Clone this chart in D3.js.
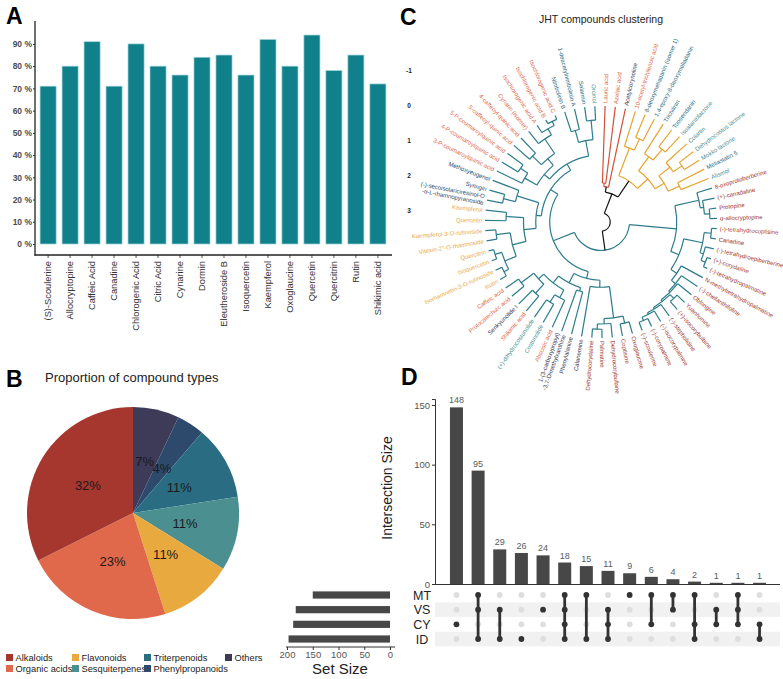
<!DOCTYPE html>
<html>
<head>
<meta charset="utf-8">
<script src="https://cdn.jsdelivr.net/npm/d3@7"></script>
<style>
body { margin: 0; background: #fff; }
svg { font-family: "Liberation Sans", Arial, sans-serif; }
</style>
</head>
<body>
<script>
//wrap everything in a self-executing anonymous function to keep it local
(function () {
    //panel A data
    var compounds = ["(S)-Scoulerine", "Allocryptopine", "Caffeic Acid", "Canadine", "Chlorogenic Acid",
        "Citric Acid", "Cynarine", "Dormin", "Eleutheroside B", "Isoquercetin", "Kaempferol",
        "Oxoglaucine", "Quercetin", "Quercitrin", "Rutin", "Shikimic acid"];
    var affinity = [71, 80, 91, 71, 90, 80, 76, 84, 85, 76, 92, 80, 94, 78, 85, 72];
    var pctTicks = [0, 10, 20, 30, 40, 50, 60, 70, 80, 90];

    //compound types (panel B legend order)
    var typeNames = ["Alkaloids", "Organic acids", "Flavonoids", "Sesquiterpenes", "Triterpenoids", "Phenylpropanoids", "Others"];
    var typeColors = ["#a5372f", "#e0694b", "#e8a93f", "#4b8f91", "#2a6c82", "#2d4a6c", "#3d3b57"];
    var pieOrder = [6, 5, 4, 3, 2, 1, 0]; //clockwise from 12 o'clock

    //panel C leaves, clockwise from the top
    var leafNames = ["Lauric acid", "Azelaic acid", "Acetylcorynoline", "10-acetyl-trichilenoic acid",
        "8-deoxymeliadanin (isomer 1)", "1,4-epoxy-8-deoxymeliadanin", "Trichilinin", "Toosendanin",
        "Isoalantolactone", "Colartin", "Dehydrocostus lactone", "Mokko lactone", "Meliastatin 5", "Alismol",
        "8-oxoprotoberberine", "(+)-canadaline", "Protopine", "\u03b1-allocryptopine", "(-)-tetrahydrocoptisine",
        "Canadine", "(-)-tetrahydroepiberberine", "(+)-corydaline", "(-)-tetrahydropalmatine",
        "N-methyltetrahydropalmatine", "(-)-cheilanthifoline", "Oblongine", "Yuanhunine", "(+)-isocorybulbine",
        "(-)-stepholidine", "(-)-isocorypalmine", "(-)-corypalmine", "(-)-scoulerine", "Oxoglaucine", "Coptisine",
        "Dehydrocorybulbine", "Palmatine", "Dehydrocorydaline", "Calanemine", "Phenylalanine",
        "1-(3-carboxypropyl)\n-3,7-Dimethylxanthine", "Abscisic acid", "Costunolide", "(+)-dihydrocostunolide",
        "Shikimic acid", "Senkyunolide I", "Protocatechuic acid", "Caffeic acid", "Rutin",
        "Isorhamnetin-3-O-rutinoside", "Isoquercetin", "Quercitrin", "Vitexin-2''-O-rhamnoside",
        "Kaempferol-3-O-rutinoside", "Quercetin", "Kaempferol", "(-)-secoisolariciresinol-O\n-\u03b1-L-rhamnopyranoside",
        "Syringin", "Methoxyeugenol", "3-P-coumaroylquinic acid", "4-P-coumaroylquinic acid",
        "5-P-coumaroylquinic acid", "5-caffeoyl-quinic acid", "4-caffeoyl-quinic acid", "Cynarin (isomer)",
        "Isochlorogenic acid A", "Isochlorogenic acid B", "Isochlorogenic acid C", "Nimbolinin B",
        "1-deacetylnimbolinin A", "Salannin", "Orcinol"];
    //index into typeNames for every leaf
    var leafTypes = [1, 1, 6, 1, 4, 4, 4, 4, 3, 3, 3, 3, 4, 3,
        0, 0, 0, 0, 0, 0, 0, 0, 0, 0, 0, 0, 0, 0, 0, 0, 0, 0, 0, 0, 0, 0, 0,
        6, 6, 6, 1, 3, 3, 1, 6, 1, 1,
        2, 2, 2, 2, 2, 2, 2, 2,
        5, 5, 5,
        1, 1, 1, 1, 1, 1, 1, 1, 1,
        4, 4, 4, 3];
    //cluster cut: sizes of the coloured groups, in leaf order
    var clusterSizes = [3, 11, 57];
    var clusterColors = ["#d2503a", "#e6a431", "#2d7c8b"];
    //tree: [merge height, child, child], leaves are leaf indices
    var treeData = [3.05,
        [2.45, [2.3, [2.2, 0, 1], 2],
            [1.9, [1.05, 3, [0.7, 4, 5]],
                [1.5, [1.0, 6, [0.6, 7, 8]], [1.2, [0.8, 9, [0.5, 10, 11]], [0.85, 12, 13]]]]],
        [2.5,
            [1.15, [0.45, 14, [0.35, 15, [0.2, 16, 17]]],
                [0.9, [0.35, [0.15, 18, 19], [0.25, 20, [0.12, 21, 22]]],
                    [0.7, 23, [0.55, 24, [0.5, 25, [0.45, [0.3, 26, 27], [0.4, 28, [0.35, 29, [0.25, 30, 31]]]]]]]]],
            [1.85,
                [1.65,
                    [1.45, [0.55, [0.35, 32, 33], [0.4, 34, [0.25, 35, 36]]], 37],
                    [1.35, [1.25, 38, 39], [1.1, [0.85, 40, [0.6, 41, 42]], [0.9, [0.55, 43, 44], [0.45, 45, 46]]]]],
                [1.6,
                    [1.45, [1.1, [0.7, [0.35, [0.2, 47, 48], [0.15, 49, 50]], [0.3, 51, 52]], [0.6, 53, 54]],
                        [0.8, [0.45, 55, 56], 57]],
                    [1.4, [1.2, [0.8, 58, [0.55, 59, 60]], [0.95, [0.6, 61, 62], [0.45, 63, [0.25, 64, [0.12, 65, 66]]]]],
                        [0.95, [0.6, 67, 68], [0.4, 69, 70]]]]]]];
    var heightTicks = [-1, 0, 1, 2, 3];

    //panel D data
    var setNames = ["MT", "VS", "CY", "ID"];
    var setSizes = [150, 183, 188, 197];
    var interSizes = [148, 95, 29, 26, 24, 18, 15, 11, 9, 6, 4, 2, 1, 1, 1];
    var interSets = [["CY"], ["MT", "VS", "ID"], ["VS", "ID"], ["ID"], ["VS"], ["MT", "VS", "CY", "ID"],
        ["MT", "ID"], ["VS", "CY", "ID"], ["MT"], ["MT", "CY"], ["MT", "VS"], ["MT", "CY", "ID"],
        ["VS", "CY"], ["MT", "VS", "CY"], ["CY", "ID"]];
    var interTicks = [0, 50, 100, 150];
    var setTicks = [200, 150, 100, 50, 0];

    var svg = d3.select("body").append("svg")
        .attr("width", 783)
        .attr("height", 679);

    drawBars(svg);
    drawPie(svg);
    drawDendrogram(svg);
    drawUpset(svg);

    //panel letters
    [["A", 6, 24], ["B", 6, 387], ["C", 400, 25], ["D", 401, 385]].forEach(function (p) {
        svg.append("text")
            .attr("x", p[1]).attr("y", p[2])
            .style("font-size", "23px").style("font-weight", "bold")
            .attr("fill", "#000")
            .text(p[0]);
    });

    function drawBars(svg) {
        var g = svg.append("g");
        var x = d3.scaleBand()
            .domain(compounds)
            .range([37, 389])
            .paddingInner(0.27)
            .paddingOuter(0.14);
        var y = d3.scaleLinear()
            .domain([0, 100])
            .range([244, 21.7]);

        g.selectAll(".barA")
            .data(compounds)
            .enter()
            .append("rect")
            .attr("class", "barA")
            .attr("x", function (d) { return x(d); })
            .attr("width", x.bandwidth())
            .attr("y", function (d, i) { return y(affinity[i]); })
            .attr("height", function (d, i) { return y(0) - y(affinity[i]); })
            .attr("fill", "#10808a")
            .attr("stroke", "#9fd2d6")
            .attr("stroke-width", 0.7);

        //y axis
        var yAxis = g.append("g")
            .attr("transform", "translate(35,0)")
            .call(d3.axisLeft(y).tickValues(pctTicks).tickSize(2).tickPadding(1)
                .tickFormat(function (d) { return d + " %"; }));
        yAxis.select(".domain").remove();
        yAxis.selectAll("line").attr("stroke", "#333");
        yAxis.selectAll("text")
            .style("font-size", "8.5px").style("font-weight", "bold")
            .style("font-family", "Liberation Sans, Arial, sans-serif")
            .attr("fill", "#4d4d4d");
        g.append("line")
            .attr("x1", 35).attr("x2", 35).attr("y1", 21).attr("y2", 255.5)
            .attr("stroke", "#222").attr("stroke-width", 1.3);

        //x axis
        var xAxis = g.append("g")
            .attr("transform", "translate(0,255)")
            .call(d3.axisBottom(x).tickSize(3).tickPadding(3));
        xAxis.select(".domain").remove();
        xAxis.selectAll("line").attr("stroke", "#555");
        xAxis.selectAll("text")
            .attr("transform", "rotate(-90)")
            .attr("x", -6).attr("y", 0).attr("dy", "0.35em")
            .attr("text-anchor", "end")
            .style("font-size", "9.3px")
            .style("font-family", "Liberation Sans, Arial, sans-serif")
            .attr("fill", "#333");
        g.append("line")
            .attr("x1", 34.4).attr("x2", 392).attr("y1", 255).attr("y2", 255)
            .attr("stroke", "#222").attr("stroke-width", 1.3);
    };

    function drawPie(svg) {
        var g = svg.append("g").attr("transform", "translate(133,513)");
        //count the compounds of each type
        var counts = d3.rollup(leafTypes, function (v) { return v.length; }, function (d) { return d; });
        var total = leafTypes.length;
        var pie = d3.pie()
            .sort(null)
            .value(function (d) { return counts.get(d); });
        var arc = d3.arc().innerRadius(0).outerRadius(106);
        var labelArc = d3.arc().innerRadius(53).outerRadius(53);
        var fmt = d3.format(".0%");
        var slices = pie(pieOrder);

        g.selectAll(".slice")
            .data(slices)
            .enter()
            .append("path")
            .attr("class", "slice")
            .attr("d", arc)
            .attr("fill", function (d) { return typeColors[d.data]; });

        g.selectAll(".pieLabel")
            .data(slices)
            .enter()
            .append("text")
            .attr("class", "pieLabel")
            .attr("transform", function (d) { return "translate(" + labelArc.centroid(d) + ")"; })
            .attr("text-anchor", "middle")
            .attr("dy", "0.35em")
            .style("font-size", "13px")
            .attr("fill", "#1a1a1a")
            .text(function (d) { return fmt(counts.get(d.data) / total); });

        svg.append("text")
            .attr("x", 45).attr("y", 382)
            .style("font-size", "13px")
            .attr("fill", "#222")
            .text("Proportion of compound types");

        //legend, filled column by column
        var legX = [6, 72, 144, 225];
        var leg = svg.selectAll(".leg")
            .data(typeNames)
            .enter()
            .append("g")
            .attr("class", "leg")
            .attr("transform", function (d, i) {
                return "translate(" + legX[Math.floor(i / 2)] + "," + (654 + (i % 2) * 11) + ")";
            });
        leg.append("rect")
            .attr("width", 7).attr("height", 7)
            .attr("fill", function (d, i) { return typeColors[i]; });
        leg.append("text")
            .attr("x", 9.5).attr("y", 7)
            .style("font-size", "9.3px")
            .attr("fill", "#222")
            .text(function (d) { return d; });
    };

    function drawDendrogram(svg) {
        var cx = 601, cy = 222;
        var g = svg.append("g").attr("transform", "translate(" + cx + "," + cy + ")");
        var r = d3.scaleLinear().domain([0, 1]).range([116, 81]);
        var nLeaf = leafNames.length;

        //cluster id of each leaf
        var leafCluster = [];
        clusterSizes.forEach(function (n, c) {
            for (var k = 0; k < n; k++) leafCluster.push(c);
        });

        var root = d3.hierarchy(treeData, function (d) {
            return Array.isArray(d) ? d.slice(1) : null;
        });
        root.eachAfter(function (n) {
            if (n.children) {
                var angs = n.children.map(function (c) { return c.ang; });
                n.h = n.data[0];
                n.a0 = d3.min(angs);
                n.a1 = d3.max(angs);
                n.ang = (n.a0 + n.a1) / 2;
                n.cl = d3.union.apply(null, n.children.map(function (c) { return c.cl; }));
            } else {
                n.h = 0;
                n.ang = (n.data + 0.4) * 360 / nLeaf;
                n.cl = new Set([leafCluster[n.data]]);
            }
            n.color = n.cl.size === 1 ? clusterColors[Array.from(n.cl)[0]] : "#111";
        });

        function pt(a, rad) {
            var t = a * Math.PI / 180;
            return [rad * Math.sin(t), -rad * Math.cos(t)];
        }

        //arcs joining the children of every node
        g.selectAll(".joinArc")
            .data(root.descendants().filter(function (n) { return n.children; }))
            .enter()
            .append("path")
            .attr("class", "joinArc")
            .attr("d", function (n) {
                var rad = r(n.h), p0 = pt(n.a0, rad), p1 = pt(n.a1, rad);
                return "M" + p0 + "A" + rad + "," + rad + " 0 " + (n.a1 - n.a0 > 180 ? 1 : 0) + " 1 " + p1;
            })
            .attr("fill", "none")
            .attr("stroke", function (n) { return n.color; })
            .attr("stroke-width", 1.2);

        //radial segments from parent height to node height
        g.selectAll(".radial")
            .data(root.descendants().filter(function (n) { return n.parent; }))
            .enter()
            .append("path")
            .attr("class", "radial")
            .attr("d", function (n) {
                return "M" + pt(n.ang, r(n.parent.h)) + "L" + pt(n.ang, r(n.h));
            })
            .attr("fill", "none")
            .attr("stroke", function (n) { return n.parent.color; })
            .attr("stroke-width", 1.2);

        //leaf labels
        var labels = g.selectAll(".leafLabel")
            .data(root.leaves())
            .enter()
            .append("text")
            .attr("class", "leafLabel")
            .attr("transform", function (n) {
                return "rotate(" + (n.ang - 90) + ") translate(" + (r(0) + 3) + ",0)" + (n.ang > 180 ? " rotate(180)" : "");
            })
            .attr("text-anchor", function (n) { return n.ang > 180 ? "end" : "start"; })
            .style("font-size", "6px")
            .attr("fill", function (n) { return typeColors[leafTypes[n.data]]; });
        labels.each(function (n) {
            var lines = leafNames[n.data].split("\n");
            d3.select(this).selectAll("tspan")
                .data(lines)
                .enter()
                .append("tspan")
                .attr("x", 0)
                .attr("dy", function (d, i) {
                    return i === 0 ? (0.35 - 0.55 * (lines.length - 1)) + "em" : "1.1em";
                })
                .text(function (d) { return d; });
        });

        //height scale on the left
        svg.selectAll(".hTick")
            .data(heightTicks)
            .enter()
            .append("text")
            .attr("class", "hTick")
            .attr("x", 409).attr("y", function (d) { return cy - r(d); })
            .attr("dy", "0.35em")
            .attr("text-anchor", "middle")
            .style("font-size", "6.5px").style("font-weight", "bold")
            .attr("fill", "#222")
            .text(function (d) { return d; });

        svg.append("text")
            .attr("x", cx).attr("y", 23)
            .attr("text-anchor", "middle")
            .style("font-size", "10.5px")
            .attr("fill", "#222")
            .text("JHT compounds clustering");
    };

    function drawUpset(svg) {
        var g = svg.append("g");
        var x = d3.scaleBand()
            .domain(d3.range(interSizes.length))
            .range([441.3, 774.7])
            .padding(0.4);
        var y = d3.scaleLinear()
            .domain([0, 155])
            .range([584, 399]);
        var row = d3.scalePoint()
            .domain(setNames)
            .range([595, 639]);
        var xs = d3.scaleLinear()
            .domain([0, 200])
            .range([390, 287]);

        //matrix stripes
        g.selectAll(".stripe")
            .data(setNames.filter(function (d, i) { return i % 2 === 1; }))
            .enter()
            .append("rect")
            .attr("class", "stripe")
            .attr("x", 435).attr("width", 345)
            .attr("y", function (d) { return row(d) - 7.3; })
            .attr("height", 14.6)
            .attr("fill", "#f1f1f1");

        //intersection bars
        g.selectAll(".interBar")
            .data(interSizes)
            .enter()
            .append("rect")
            .attr("class", "interBar")
            .attr("x", function (d, i) { return x(i); })
            .attr("width", x.bandwidth())
            .attr("y", function (d) { return y(d); })
            .attr("height", function (d) { return y(0) - y(d); })
            .attr("fill", "#474747");
        g.selectAll(".interVal")
            .data(interSizes)
            .enter()
            .append("text")
            .attr("class", "interVal")
            .attr("x", function (d, i) { return x(i) + x.bandwidth() / 2; })
            .attr("y", function (d) { return y(d) - 4; })
            .attr("text-anchor", "middle")
            .style("font-size", "9px")
            .attr("fill", "#5a5a5a")
            .text(function (d) { return d; });

        var yAxis = g.append("g")
            .attr("transform", "translate(435,0)")
            .call(d3.axisLeft(y).tickValues(interTicks).tickSize(3).tickPadding(2));
        yAxis.select(".domain").attr("stroke", "#333");
        yAxis.selectAll("line").attr("stroke", "#333");
        yAxis.selectAll("text")
            .style("font-size", "9.5px")
            .style("font-family", "Liberation Sans, Arial, sans-serif")
            .attr("fill", "#555");
        g.append("line")
            .attr("x1", 435).attr("x2", 780).attr("y1", 584.5).attr("y2", 584.5)
            .attr("stroke", "#333").attr("stroke-width", 1.2);

        g.append("text")
            .attr("transform", "translate(392,488) rotate(-90)")
            .attr("text-anchor", "middle")
            .style("font-size", "14px")
            .attr("fill", "#222")
            .text("Intersection Size");

        //dot matrix
        var cols = g.selectAll(".col")
            .data(interSets)
            .enter()
            .append("g")
            .attr("class", "col")
            .attr("transform", function (d, i) { return "translate(" + (x(i) + x.bandwidth() / 2) + ",0)"; });
        cols.selectAll(".dot")
            .data(function (d) {
                return setNames.map(function (s) { return { set: s, on: d.indexOf(s) >= 0 }; });
            })
            .enter()
            .append("circle")
            .attr("cy", function (d) { return row(d.set); })
            .attr("r", 2.9)
            .attr("fill", function (d) { return d.on ? "#333" : "#dedede"; });
        cols.filter(function (d) { return d.length > 1; })
            .append("line")
            .attr("y1", function (d) { return d3.min(d, row); })
            .attr("y2", function (d) { return d3.max(d, row); })
            .attr("stroke", "#333")
            .attr("stroke-width", 2.8);

        g.selectAll(".setLabel")
            .data(setNames)
            .enter()
            .append("text")
            .attr("class", "setLabel")
            .attr("x", 422).attr("y", function (d) { return row(d); })
            .attr("dy", "0.36em")
            .attr("text-anchor", "middle")
            .style("font-size", "12.5px")
            .attr("fill", "#222")
            .text(function (d) { return d; });

        //set size bars
        g.selectAll(".setBar")
            .data(setSizes)
            .enter()
            .append("rect")
            .attr("class", "setBar")
            .attr("x", function (d) { return xs(d); })
            .attr("width", function (d) { return xs(0) - xs(d); })
            .attr("y", function (d, i) { return row(setNames[i]) - 3.6; })
            .attr("height", 7.2)
            .attr("fill", "#474747");
        var sAxis = g.append("g")
            .attr("transform", "translate(0,647)")
            .call(d3.axisBottom(xs).tickValues(setTicks).tickSize(3).tickPadding(1));
        sAxis.select(".domain").remove();
        sAxis.selectAll("line").attr("stroke", "#333");
        sAxis.selectAll("text")
            .style("font-size", "9.5px")
            .style("font-family", "Liberation Sans, Arial, sans-serif")
            .attr("fill", "#555");
        g.append("line")
            .attr("x1", 286).attr("x2", 395).attr("y1", 647).attr("y2", 647)
            .attr("stroke", "#333");
        g.append("text")
            .attr("x", 340).attr("y", 674)
            .attr("text-anchor", "middle")
            .style("font-size", "15px")
            .attr("fill", "#222")
            .text("Set Size");
    };
})();
</script>
</body>
</html>
